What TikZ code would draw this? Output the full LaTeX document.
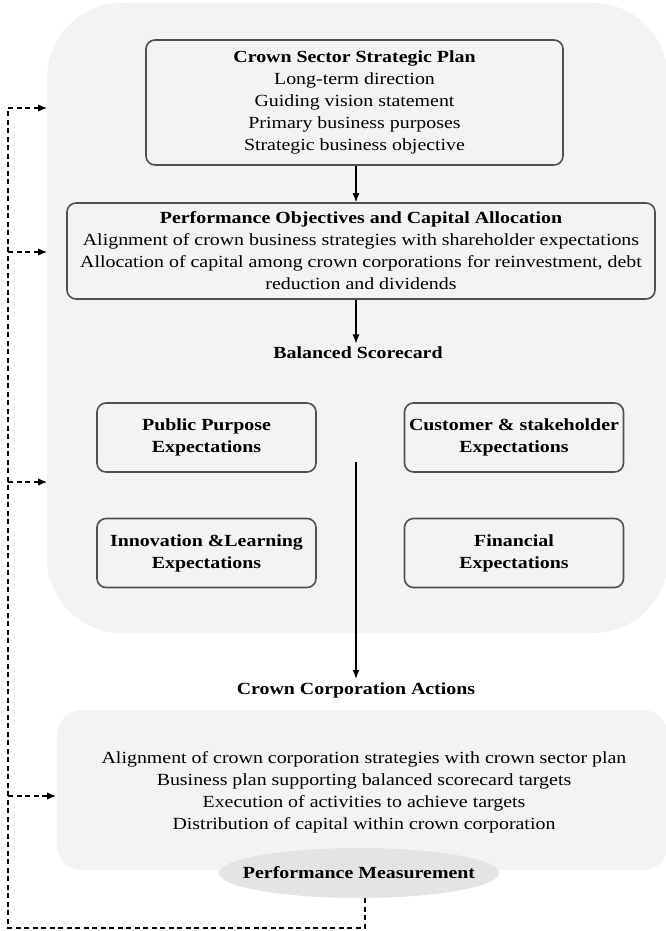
\documentclass[tikz,border=0pt]{standalone}
\usepackage{fontspec}
\setmainfont{Liberation Serif}[FakeStretch=1.17]
\usetikzlibrary{positioning,shapes.geometric,arrows.meta}
\definecolor{panel}{HTML}{F3F3F3}
\definecolor{oval}{HTML}{E4E4E4}
\definecolor{edge}{HTML}{505050}

\begin{document}
\begin{tikzpicture}[x=1pt,y=-1pt,font=\fontsize{17}{22}\selectfont,
  box/.style={draw=edge,line width=1.6pt,rounded corners=9pt,fill=panel,align=center,inner sep=2pt},
  small/.style={box,minimum width=219pt,minimum height=69pt,font=\fontsize{17}{22}\selectfont\bfseries},
  flow/.style={line width=1.1pt,-{Latex[length=9pt,width=7pt]}},
  back/.style={line width=1.2pt,dash pattern=on 5pt off 3.5pt},
  backarrow/.style={back,-{Latex[length=9pt,width=7.5pt]}}]
\useasboundingbox (0,0) rectangle (665,931);
% grey panels behind the nodes
\fill[panel] (47,3) [rounded corners=75pt] rectangle (668,633);
\fill[panel] (57,710) [rounded corners=25pt] rectangle (668,870);

\node[box,minimum width=417pt,minimum height=125pt] (plan) at (354.5,102.5)
  {\textbf{Crown Sector Strategic Plan}\\Long-term direction\\Guiding vision statement\\Primary business purposes\\Strategic business objective};
\node[box,minimum width=588pt,minimum height=96pt] (alloc) at (361,251)
  {\textbf{Performance Objectives and Capital Allocation}\\Alignment of crown business strategies with shareholder expectations\\Allocation of capital among crown corporations for reinvestment, debt\\reduction and dividends};
\node[font=\fontsize{17}{22}\selectfont\bfseries] (scorecard) at (358,353) {Balanced Scorecard};

\node[small] (public) at (206.5,437.5) {Public Purpose\\Expectations};
\node[small] (customer) at (514,437.5) {Customer \& stakeholder\\Expectations};
\node[small] (innovation) at (206.5,553) {Innovation \&Learning\\Expectations};
\node[small] (financial) at (514,553) {Financial\\Expectations};

\coordinate (split) at (356,462);
\node[font=\fontsize{17}{22}\selectfont\bfseries] (actions) at (356,690) {Crown Corporation Actions};
\node[align=center] (tasks) at (364,792)
  {Alignment of crown corporation strategies with crown sector plan\\Business plan supporting balanced scorecard targets\\Execution of activities to achieve targets\\Distribution of capital within crown corporation};
\node[ellipse,fill=oval,minimum height=50pt,inner xsep=-17pt,inner ysep=0pt,font=\fontsize{17}{22}\selectfont\bfseries] (measure) at (359,873) {Performance Measurement};

\draw[flow] (plan.south -| 356,0) -- (alloc.north -| 356,0);
\draw[flow] (alloc.south -| 356,0) -- (scorecard.north -| 356,0);
\draw[flow] (split) -- (actions.north -| split);

% feedback loop
\coordinate (loopA) at (365,928);
\coordinate (loopB) at (8,928);
\coordinate (loopC) at (8,108);
\coordinate (in1) at (47,108);
\coordinate (in2) at (47,252);
\coordinate (in3) at (47,482);
\coordinate (in4) at (56,796);
\draw[back] (measure.south -| loopA) -- (loopA) -- (loopB) -- (loopC);
\draw[backarrow] (loopC) -- (in1);
\draw[backarrow] (loopB |- in2) -- (in2);
\draw[backarrow] (loopB |- in3) -- (in3);
\draw[backarrow] (loopB |- in4) -- (in4);
\end{tikzpicture}
\end{document}
